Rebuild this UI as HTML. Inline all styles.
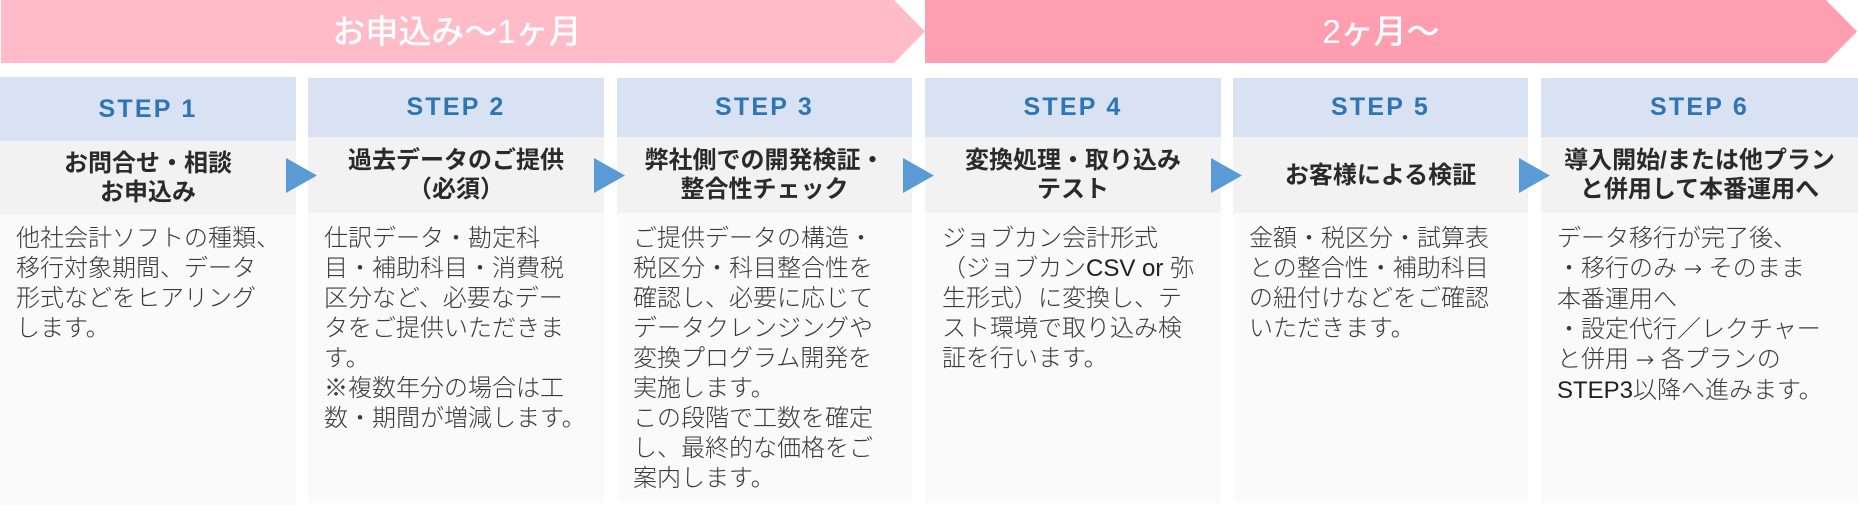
<!DOCTYPE html>
<html lang="ja">
<head>
<meta charset="utf-8">
<style>
  html, body { margin:0; padding:0; }
  body { width:1858px; height:509px; position:relative; overflow:hidden; background:#ffffff;
         font-family:"Liberation Sans","Noto Sans CJK JP",sans-serif; }
  .bar-text { position:absolute; top:0; height:63px; line-height:63px; color:#ffffff; font-size:33px;
              text-align:center; white-space:nowrap; font-weight:500; }
  .hdr { position:absolute; background:#D9E2F3; color:#2E75B6; font-weight:bold; font-size:25px;
         letter-spacing:2.2px; display:flex; align-items:center; justify-content:center; }
  .ttl { position:absolute; background:#F2F2F2; color:#2a2a2a; font-weight:bold; font-size:24px;
         line-height:29px; display:flex; align-items:center; justify-content:center; text-align:center;
         white-space:nowrap; }
  .bdy { position:absolute; background:#FAFAFA; }
  .txt { position:absolute; top:224px; font-size:24px; line-height:30px; color:#3a3a3a; white-space:nowrap;
         font-weight:300; }
  .lat { color:#1f1f1f; }
  .arr { font-family:"DejaVu Sans",sans-serif; color:#1f1f1f; font-size:22px; }
  svg.ov { position:absolute; left:0; top:0; }
</style>
</head>
<body>

<!-- top bars -->
<svg class="ov" width="1858" height="509" viewBox="0 0 1858 509" style="z-index:0">
  <polygon points="1,0 894,0 925,31.5 894,63 1,63" fill="#FFBCC8"/>
  <polygon points="925,0 1826,0 1857,31.5 1826,63 925,63" fill="#FF9EB1"/>
</svg>
<div class="bar-text" style="left:1px; width:912px;">お申込み〜1ヶ月</div>
<div class="bar-text" style="left:925px; width:912px;">2ヶ月〜</div>

<!-- Column 1 -->
<div class="hdr" style="left:0; top:77px; width:296px; height:64px;">STEP 1</div>
<div class="ttl" style="left:0; top:141px; width:296px; height:74px;">お問合せ・相談<br>お申込み</div>
<div class="bdy" style="left:0; top:215px; width:296px; height:290px;"></div>
<div class="txt" style="left:16px;">他社会計ソフトの種類、<br>移行対象期間、データ<br>形式などをヒアリング<br>します。</div>

<!-- Column 2 -->
<div class="hdr" style="left:308px; top:78px; width:296px; height:59px;">STEP 2</div>
<div class="ttl" style="left:308px; top:137px; width:296px; height:76px;">過去データのご提供<br>（必須）</div>
<div class="bdy" style="left:308px; top:213px; width:296px; height:290px;"></div>
<div class="txt" style="left:324px;">仕訳データ・勘定科<br>目・補助科目・消費税<br>区分など、必要なデー<br>タをご提供いただきま<br>す。<br>※複数年分の場合は工<br>数・期間が増減します。</div>

<!-- Column 3 -->
<div class="hdr" style="left:617px; top:78px; width:295px; height:59px;">STEP 3</div>
<div class="ttl" style="left:617px; top:137px; width:295px; height:76px;">弊社側での開発検証・<br>整合性チェック</div>
<div class="bdy" style="left:617px; top:213px; width:295px; height:290px;"></div>
<div class="txt" style="left:633px;">ご提供データの構造・<br>税区分・科目整合性を<br>確認し、必要に応じて<br>データクレンジングや<br>変換プログラム開発を<br>実施します。<br>この段階で工数を確定<br>し、最終的な価格をご<br>案内します。</div>

<!-- Column 4 -->
<div class="hdr" style="left:925px; top:78px; width:296px; height:59px;">STEP 4</div>
<div class="ttl" style="left:925px; top:137px; width:296px; height:76px;">変換処理・取り込み<br>テスト</div>
<div class="bdy" style="left:925px; top:213px; width:296px; height:290px;"></div>
<div class="txt" style="left:942px;">ジョブカン会計形式<br>（ジョブカン<span class="lat">CSV or </span>弥<br>生形式）に変換し、テ<br>スト環境で取り込み検<br>証を行います。</div>

<!-- Column 5 -->
<div class="hdr" style="left:1233px; top:78px; width:295px; height:59px;">STEP 5</div>
<div class="ttl" style="left:1233px; top:137px; width:295px; height:76px;">お客様による検証</div>
<div class="bdy" style="left:1233px; top:213px; width:295px; height:290px;"></div>
<div class="txt" style="left:1249px;">金額・税区分・試算表<br>との整合性・補助科目<br>の紐付けなどをご確認<br>いただきます。</div>

<!-- Column 6 -->
<div class="hdr" style="left:1541px; top:78px; width:317px; height:59px;">STEP 6</div>
<div class="ttl" style="left:1541px; top:137px; width:317px; height:76px;">導入開始/または他プラン<br>と併用して本番運用へ</div>
<div class="bdy" style="left:1541px; top:213px; width:317px; height:290px;"></div>
<div class="txt" style="left:1557px;">データ移行が完了後、<br>・移行のみ <span class="arr">→</span> そのまま<br>本番運用へ<br>・設定代行／レクチャー<br>と併用 <span class="arr">→</span> 各プランの<br><span class="lat">STEP3</span>以降へ進みます。</div>

<!-- connector triangles -->
<svg class="ov" width="1858" height="509" viewBox="0 0 1858 509" style="z-index:5">
  <polygon points="286,158 317,175.5 286,193" fill="#5B9BD5"/>
  <polygon points="594,158 625,175.5 594,193" fill="#5B9BD5"/>
  <polygon points="903,158 934,175.5 903,193" fill="#5B9BD5"/>
  <polygon points="1211,158 1242,175.5 1211,193" fill="#5B9BD5"/>
  <polygon points="1519,158 1550,175.5 1519,193" fill="#5B9BD5"/>
</svg>

</body>
</html>
